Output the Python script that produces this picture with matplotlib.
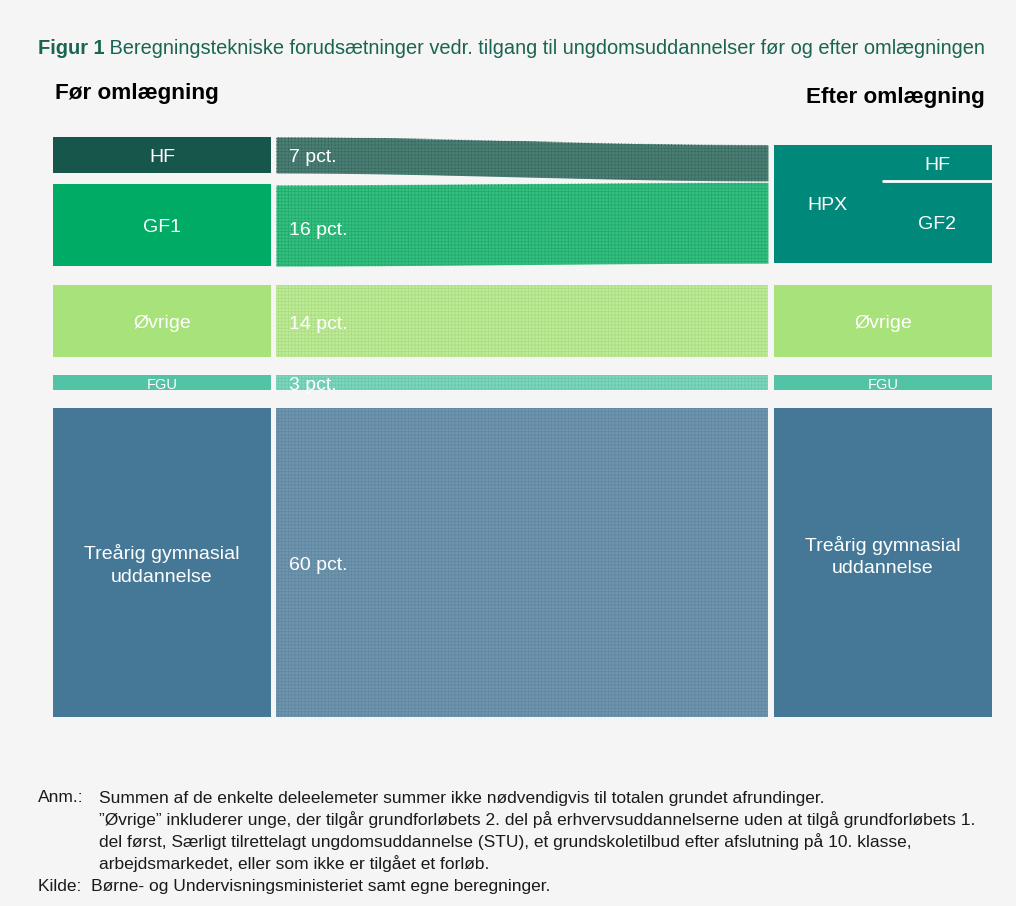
import matplotlib.pyplot as plt
import numpy as np

plt.rcParams['font.family'] = ['Liberation Sans', 'DejaVu Sans']
plt.rcParams['hatch.linewidth'] = 0.5

# Data
before_labels = ["HF", "GF1", "Øvrige", "FGU", "Treårig gymnasial\nuddannelse"]
shares = [7, 16, 14, 3, 60]
pct_labels = ["7 pct.", "16 pct.", "14 pct.", "3 pct.", "60 pct."]
after_labels = ["HPX", "Øvrige", "FGU", "Treårig gymnasial\nuddannelse"]
hpx_parts = ["HF", "GF2"]

block_colors = ["#17564b", "#00ab66", "#a8e27a", "#52c3a5", "#447896"]
band_colors = ["#4b7f75", "#33c080", "#bdeb97", "#7fd6bf", "#6f95ae"]
hatch_colors = ["#3a6b61", "#22a86c", "#a9dc80", "#66c7ad", "#5f87a2"]
hpx_color = "#00897a"
bg = "#f5f5f5"

# Layout (pixels)
W, H = 1016, 906
top = 137
scale = 5.14            # pixels per percentage point
gaps = [2.1, 3.7, 3.5, 3.5]
lx0, lx1 = 53, 271      # left column
bx0, bx1 = 276, 768     # flows
rx0, rx1 = 774, 992     # right column
hpx_offset = 1.55
lab_fs = 14
fgu_fs = 10.5

fig = plt.figure(figsize=(W / 100, H / 100), dpi=100, facecolor=bg)
ax = fig.add_axes([0, 0, 1, 1])
ax.set_xlim(0, W)
ax.set_ylim(H, 0)
ax.axis('off')

# left starting positions in share units
starts = []
pos = 0.0
for i, s in enumerate(shares):
    starts.append(pos)
    pos += s
    if i < len(gaps):
        pos += gaps[i]


def py(u):
    return top + u * scale


# left blocks
for i, (lab, s) in enumerate(zip(before_labels, shares)):
    y0, y1 = py(starts[i]), py(starts[i] + s)
    ax.fill_between([lx0, lx1], y0, y1, color=block_colors[i], lw=0)
    fs = fgu_fs if lab == "FGU" else lab_fs
    ax.text((lx0 + lx1) / 2, (y0 + y1) / 2 + 2.5, lab, color="white", fontsize=fs,
            ha="center", va="center", linespacing=1.4)

# right targets in share units
hpx_start = starts[0] + hpx_offset
right_starts = [hpx_start, hpx_start + shares[0]] + starts[2:]

# flows
xs = np.linspace(bx0, bx1, 200)
t = (xs - bx0) / (bx1 - bx0)
smooth = t * t * (3 - 2 * t)
for i, s in enumerate(shares):
    a0, b0 = starts[i], right_starts[i]
    y_top = py(a0 + (b0 - a0) * smooth)
    y_bot = py(a0 + s + (b0 - a0) * smooth)
    if i == 1:
        y_top = y_top + 1.5
    ax.fill_between(xs, y_top, y_bot, color=band_colors[i], lw=0)
    ax.fill_between(xs, y_top, y_bot, facecolor="none", edgecolor=hatch_colors[i],
                    hatch="+++++", lw=0)
    ax.text(bx0 + 13, py(a0 + s / 2) + (6 if i == 1 else 3), pct_labels[i],
            color="white", fontsize=lab_fs, ha="left", va="center")

# right blocks
hpx_total = shares[0] + shares[1]
y0, y1 = py(hpx_start), py(hpx_start + hpx_total)
ax.fill_between([rx0, rx1], y0, y1, color=hpx_color, lw=0)
ax.text(827, (y0 + y1) / 2 + 1.5, after_labels[0], color="white", fontsize=lab_fs,
        ha="center", va="center")
ysplit = py(hpx_start + shares[0])
ax.plot([882, rx1], [ysplit, ysplit], color="white", lw=2, solid_capstyle="butt")
ax.text(937, (y0 + ysplit) / 2 + 3, hpx_parts[0], color="white", fontsize=lab_fs,
        ha="center", va="center")
ax.text(937, (ysplit + y1) / 2 + 2.5, hpx_parts[1], color="white", fontsize=lab_fs,
        ha="center", va="center")

for j, lab in enumerate(after_labels[1:]):
    i = j + 2
    y0, y1 = py(starts[i]), py(starts[i] + shares[i])
    ax.fill_between([rx0, rx1], y0, y1, color=block_colors[i], lw=0)
    fs = fgu_fs if lab == "FGU" else lab_fs
    dy = -6 if i == 4 else 2
    ax.text((rx0 + rx1) / 2, (y0 + y1) / 2 + dy, lab, color="white", fontsize=fs,
            ha="center", va="center", linespacing=1.4)

# titles
title_color = "#1b6452"
t1 = ax.text(38, 48, "Figur 1", color=title_color, fontsize=14.4, fontweight="bold",
             ha="left", va="center")
ax.annotate(" Beregningstekniske forudsætninger vedr. tilgang til ungdomsuddannelser før og efter omlægningen",
            xy=(1, 0), xycoords=t1, color=title_color, fontsize=14.4,
            ha="left", va="bottom")
ax.text(55, 94, "Før omlægning", fontsize=16.2, fontweight="bold", ha="left", va="center")
ax.text(985, 97, "Efter omlægning", fontsize=16.2, fontweight="bold", ha="right", va="center")

# notes
note_fs = 12.5
note_color = "#1a1a1a"
ax.text(38, 798, "Anm.:", fontsize=note_fs, color=note_color, va="center")
note_lines = [
    "Summen af de enkelte deleelemeter summer ikke nødvendigvis til totalen grundet afrundinger.",
    "”Øvrige” inkluderer unge, der tilgår grundforløbets 2. del på erhvervsuddannelserne uden at tilgå grundforløbets 1.",
    "del først, Særligt tilrettelagt ungdomsuddannelse (STU), et grundskoletilbud efter afslutning på 10. klasse,",
    "arbejdsmarkedet, eller som ikke er tilgået et forløb.",
]
for k, line in enumerate(note_lines):
    ax.text(99, 798 + k * 21.7, line, fontsize=note_fs, color=note_color, va="center")
ax.text(38, 886, "Kilde:  Børne- og Undervisningsministeriet samt egne beregninger.",
        fontsize=note_fs, color=note_color, va="center")

fig.savefig("out.png", dpi=100, facecolor=bg)
